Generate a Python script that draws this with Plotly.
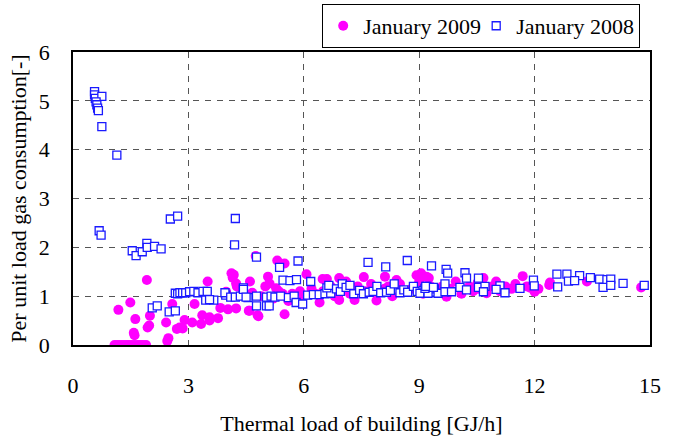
import plotly.graph_objects as go

# January 2009 (magenta dots)
x2009 = [1.08, 1.15, 1.22, 1.30, 1.38, 1.45, 1.52, 1.60, 1.68, 1.75, 1.82, 1.90,
         1.92, 1.49, 1.18, 1.62, 2.00, 1.58, 1.60, 1.94, 1.98, 2.42, 2.48, 2.45, 2.58,
         2.70, 2.77, 2.85, 2.90, 3.10, 3.16, 3.33, 3.36, 3.55, 3.55, 3.77, 3.50, 3.83,
         4.03, 4.12, 4.18, 4.15, 4.24, 4.26, 3.98, 4.24, 4.57, 4.66, 4.80, 4.75, 5.31,
         5.50, 5.07, 5.11, 5.28, 4.59, 4.82, 5.50, 6.07, 6.49, 6.60, 6.41, 6.92, 6.92,
         7.56, 7.32, 7.89, 8.11, 8.41, 8.93, 9.05, 9.19, 9.10, 9.25, 9.71, 10.50, 10.55,
         10.52, 10.67, 11.00, 10.75, 11.24, 11.69, 12.00, 11.90, 12.38, 12.40, 13.36, 14.77,
         4.90, 5.20, 5.35, 5.60, 5.70, 5.90, 6.00, 6.20, 6.30, 6.50, 6.70, 6.80, 7.00,
         7.10, 7.20, 7.40, 7.60, 7.75, 7.90, 8.10, 8.20, 8.30, 8.50, 8.60, 8.80, 9.00,
         9.10, 9.30, 9.45, 9.60, 9.80, 9.95, 10.10, 10.30, 10.40, 10.90, 11.10, 11.40,
         11.50, 11.80, 12.10, 4.40, 4.60, 5.00, 5.45]
y2009 = [0, 0, 0, 0, 0, 0, 0, 0, 0, 0, 0, 0,
         1.33, 0.87, 0.72, 0.53, 0.60, 0.25, 0.20, 0.36, 0.40, 0.46, 0.14, 0.08, 0.84,
         0.33, 0.36, 0.34, 0.51, 0.46, 0.84, 0.43, 0.61, 0.57, 0.50, 0.55, 1.30, 0.76,
         0.73, 1.47, 1.44, 1.38, 1.26, 1.20, 1.09, 0.75, 0.70, 1.07, 0.61, 1.82, 1.73,
         1.67, 1.40, 1.26, 1.16, 0.70, 0.59, 0.63, 1.45, 1.35, 1.35, 0.87, 1.37, 0.92,
         1.39, 0.92, 0.91, 1.40, 1.33, 1.43, 1.47, 1.40, 1.40, 1.37, 0.99, 1.21, 1.15,
         1.28, 1.37, 1.30, 1.06, 1.20, 1.41, 1.09, 1.17, 1.23, 1.28, 1.30, 1.18,
         1.00, 0.95, 1.10, 0.90, 1.05, 1.10, 1.00, 1.15, 1.05, 1.10, 1.20, 1.00, 1.15,
         1.30, 1.05, 1.20, 1.10, 1.25, 1.05, 1.15, 1.20, 1.00, 1.25, 1.10, 1.15, 1.30,
         1.05, 1.20, 1.10, 1.20, 1.15, 1.30, 1.05, 1.20, 1.10, 1.20, 1.10, 1.15,
         1.25, 1.20, 1.15, 1.15, 1.30, 1.20, 1.05]

# January 2008 (open blue squares)
x2008 = [0.56, 0.56, 0.58, 0.75, 0.60, 0.62, 0.64, 0.66, 0.75, 1.14,
         0.68, 0.73,
         1.54, 1.64, 1.80, 1.92, 1.93, 2.12, 2.29, 2.53, 2.72, 4.22, 4.20, 4.77,
         2.06, 2.19, 2.50, 2.66,
         2.66, 2.72, 2.78, 2.85, 2.93, 3.03, 3.14, 3.25, 3.38, 3.49, 3.45, 3.66, 3.55,
         3.97, 3.95, 4.10, 4.22, 4.35, 4.43, 4.55, 4.77, 4.77, 4.43,
         4.50, 5.03, 5.15, 5.25, 5.40, 5.60, 5.75, 5.03, 5.10, 5.80, 5.97, 5.37, 5.85,
         5.46, 5.64, 5.81, 6.18,
         6.10, 6.25, 6.40, 6.55, 6.70, 6.60, 6.65, 6.85, 6.95, 7.00, 7.10, 7.20, 7.30,
         7.45, 7.55, 7.70, 7.80, 7.90, 8.00, 8.15, 8.25, 8.35, 8.50, 8.60, 8.70, 8.85,
         8.95, 9.10, 9.20, 9.30, 9.40,
         7.67, 8.13, 8.69, 9.32,
         9.02, 9.23, 9.49, 9.15, 9.17, 9.37, 9.67, 9.67, 9.84, 10.06, 10.23, 10.54,
         10.71, 9.70, 9.74, 10.19, 10.23, 10.54, 11.10, 11.23, 10.67, 11.00, 11.62,
         11.97, 11.99,
         12.58, 12.84, 13.17, 13.45, 13.69, 13.88, 13.98, 12.60, 12.88, 13.04, 13.78,
         13.98, 14.30, 14.85]
y2008 = [5.19, 5.12, 5.05, 5.09, 4.98, 4.92, 4.85, 4.80, 4.47, 3.89,
         2.34, 2.25,
         1.93, 1.83, 1.91, 2.08, 2.00, 2.02, 1.97, 2.58, 2.64, 2.59, 2.05, 1.80,
         0.76, 0.80, 0.68, 0.70,
         1.06, 1.05, 1.07, 1.07, 1.07, 1.09, 1.10, 1.07, 1.10, 1.10, 0.92, 0.92, 0.93,
         1.02, 1.07, 0.98, 0.98, 1.00, 1.17, 0.97, 1.00, 0.80, 1.14,
         0.98, 0.98, 1.00, 0.98, 1.00, 0.97, 1.00, 0.80, 0.80, 0.87, 0.84, 1.59, 1.72,
         1.33, 1.32, 1.34, 1.30,
         1.02, 1.03, 1.03, 1.05, 1.06, 1.17, 1.22, 1.15, 1.10, 1.25, 1.18, 1.22, 1.05,
         1.12, 1.05, 1.08, 1.10, 1.20, 1.07, 1.08, 1.12, 1.25, 1.07, 1.13, 1.08, 1.20,
         1.10, 1.12, 1.20, 1.08, 1.15,
         1.69, 1.60, 1.73, 1.62,
         1.06, 1.06, 1.06, 1.16, 1.20, 1.18, 1.25, 1.09, 1.09, 1.18, 1.13, 1.18,
         1.20, 1.55, 1.47, 1.48, 1.37, 1.37, 1.21, 1.07, 1.09, 1.14, 1.16,
         1.33, 1.21,
         1.45, 1.45, 1.42, 1.38, 1.35, 1.34, 1.35, 1.19, 1.31, 1.32, 1.18,
         1.22, 1.26, 1.22]

x_ticks = [0, 3, 6, 9, 12, 15]
y_ticks = [0, 1, 2, 3, 4, 5, 6]

FONT = ("Liberation Serif, LiberationSerif, Times New Roman, Times, Tinos, "
        "Nimbus Roman, DejaVu Serif, serif")

fig = go.Figure()
fig.add_trace(go.Scatter(
    x=x2009, y=y2009, mode="markers", name="January 2009", legendwidth=108,
    marker=dict(symbol="circle", size=10, color="#ff00ff", line=dict(width=0)),
))
fig.add_trace(go.Scatter(
    x=x2008, y=y2008, mode="markers", name="January 2008",
    marker=dict(symbol="square", size=8, color="white",
                line=dict(color="#1a1aff", width=1.3)),
))

axis_common = dict(
    showline=True, linecolor="black", linewidth=1.5, mirror=True,
    showgrid=True, gridcolor="#555555", griddash="6px,6px", gridwidth=1,
    zeroline=False, ticks="", automargin=False,
    tickfont=dict(family=FONT, size=22, color="black"),
)

fig.update_xaxes(range=[0, 15], tickvals=x_ticks, ticklabelstandoff=20,
                 title=dict(text="Thermal load of building [GJ/h]",
                            font=dict(family=FONT, size=22, color="black"),
                            standoff=18),
                 **axis_common)
fig.update_yaxes(range=[0, 6], tickvals=y_ticks, ticklabelstandoff=17,
                 title=dict(text="Per unit load gas consumption[-]",
                            font=dict(family=FONT, size=22, color="black"),
                            standoff=6),
                 **axis_common)

fig.update_layout(
    width=673, height=439,
    font=dict(family=FONT, color="black"),
    margin=dict(l=73, r=23, t=52, b=94, autoexpand=False),
    paper_bgcolor="white", plot_bgcolor="white",
    showlegend=True,
    legend=dict(orientation="h", x=0.983, xanchor="right", y=1.164, yanchor="top",
                bordercolor="black", borderwidth=1, bgcolor="white",
                font=dict(family=FONT, size=22, color="black"),
                itemwidth=30, tracegroupgap=0),
)

fig.write_html("out.html", config={"displayModeBar": False},
               post_script="document.body.style.margin='0';document.body.style.padding='0';")
